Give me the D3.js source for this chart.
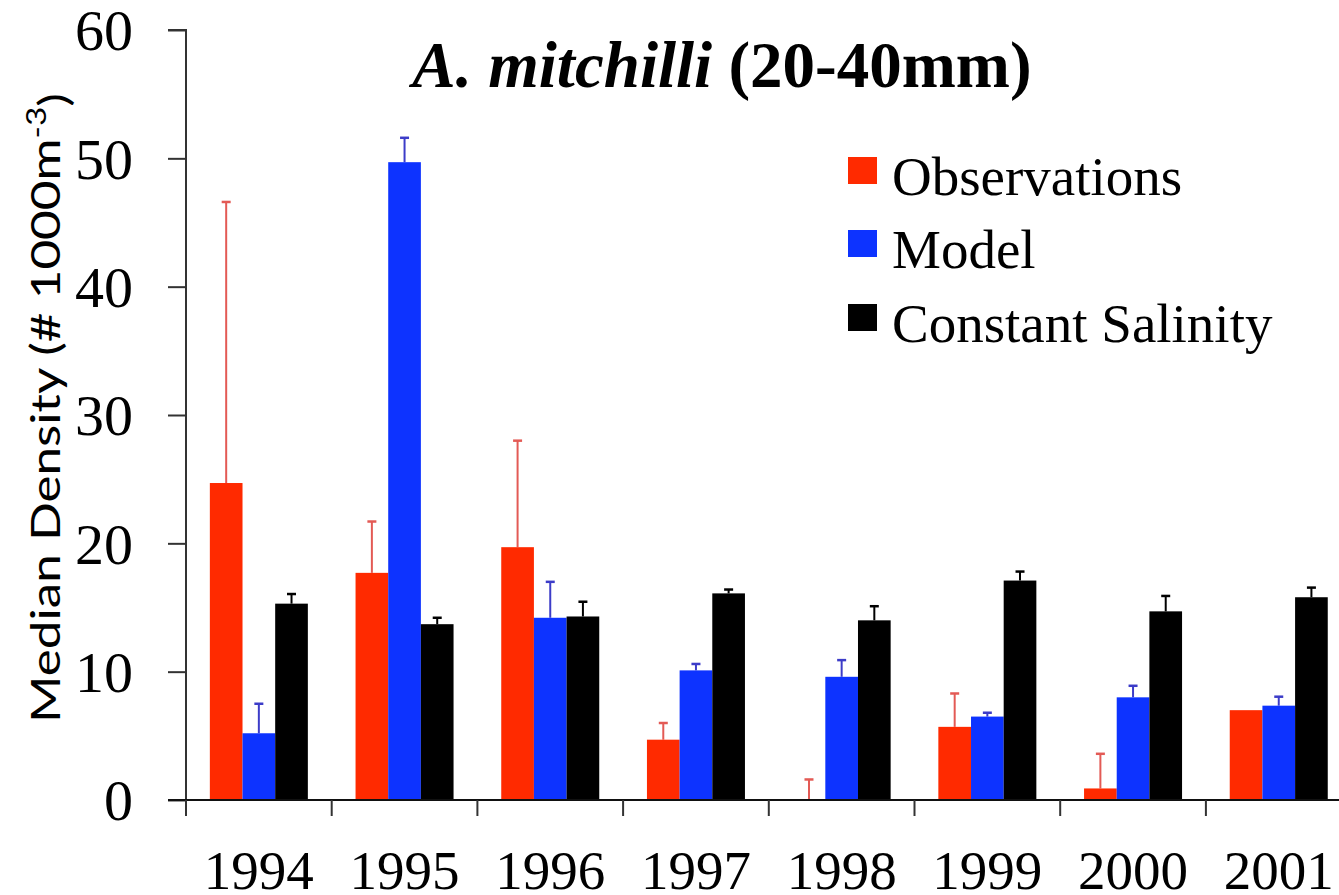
<!DOCTYPE html>
<html>
<head>
<meta charset="utf-8">
<script src="https://cdn.jsdelivr.net/npm/d3@7"></script>
<style>
	body { margin:0; background:#fff; }
	svg { display:block; }
	.serif { font-family: "Liberation Serif", "Times New Roman", serif; fill:#000; }
</style>
</head>
<body>
<div id="svgContainer"></div>
<script>
// data
var years = ["1994","1995","1996","1997","1998","1999","2000","2001"];
var series = ["Observations","Model","Constant Salinity"];
var colors = ["#ff2a00","#0d33ff","#000000"];
var errColors = ["#e35a55","#3c3cc8","#000000"];

var observations = [24.7, 17.7, 19.7, 4.7, 0, 5.7, 0.9, 7.0];
var model        = [5.2, 49.7, 14.2, 10.1, 9.6, 6.5, 8.0, 7.35];
var constSal     = [15.3, 13.7, 14.3, 16.1, 14.0, 17.1, 14.7, 15.8];

// upper error bar size
var observationsErr = [21.9, 4.0, 8.3, 1.3, 1.6, 2.6, 2.7, 0];
var modelErr        = [2.3, 1.9, 2.8, 0.5, 1.3, 0.3, 0.9, 0.7];
var constSalErr     = [0.75, 0.5, 1.15, 0.3, 1.1, 0.7, 1.2, 0.75];

var yTicks = [0, 10, 20, 30, 40, 50, 60];

var W = 1339, H = 895;
var plot = {left:186, top:30, bottom:800, step:145.7};

var svg = d3.select("#svgContainer").append("svg")
	.attr("width", W)
	.attr("height", H);

// scales
var xScale = d3.scaleBand()
	.domain(years)
	.range([plot.left, plot.left + plot.step*years.length])
	.paddingInner(0).paddingOuter(0);

var xSub = d3.scaleBand()
	.domain(series)
	.range([0, xScale.bandwidth()])
	.paddingInner(0)
	.paddingOuter(0.73);

var yScale = d3.scaleLinear().domain([0, 60]).range([plot.bottom, plot.top]);

var values = [observations, model, constSal];
var errs = [observationsErr, modelErr, constSalErr];

// build one node per bar
var data = [];
series.forEach(function(s, si){
	years.forEach(function(yr, i){
		data.push({ year:yr, s:s, si:si, v:values[si][i], e:errs[si][i] });
	});
});

function barMid(d){ return xScale(d.year) + xSub(d.s) + xSub.bandwidth()/2; }

// error bars (drawn first so the bars cover the base)
var eb = svg.append("g").attr("class","errors")
	.selectAll("g").data(data.filter(function(d){ return d.e > 0; }))
	.enter().append("g");

eb.append("line")
	.attr("x1", barMid)
	.attr("x2", barMid)
	.attr("y1", function(d){ return yScale(d.v); })
	.attr("y2", function(d){ return yScale(d.v + d.e); })
	.attr("stroke", function(d){ return errColors[d.si]; })
	.attr("stroke-width", 2);

eb.append("line")
	.attr("x1", function(d){ return barMid(d) - 4.5; })
	.attr("x2", function(d){ return barMid(d) + 4.5; })
	.attr("y1", function(d){ return yScale(d.v + d.e); })
	.attr("y2", function(d){ return yScale(d.v + d.e); })
	.attr("stroke", function(d){ return errColors[d.si]; })
	.attr("stroke-width", 2.5);

// bars
svg.append("g").attr("class","bars")
	.selectAll("rect").data(data.filter(function(d){ return d.v > 0; }))
	.enter().append("rect")
	.attr("x", function(d){ return xScale(d.year) + xSub(d.s); })
	.attr("width", xSub.bandwidth())
	.attr("y", function(d){ return yScale(d.v); })
	.attr("height", function(d){ return yScale(0) - yScale(d.v); })
	.attr("fill", function(d){ return colors[d.si]; });

// y axis
var yAxis = d3.axisLeft(yScale).tickValues(yTicks).tickSize(18).tickPadding(35).tickFormat(d3.format("d"));
var gy = svg.append("g")
	.attr("transform", "translate(" + plot.left + ",0)")
	.call(yAxis);
gy.select(".domain").attr("d", "M-18," + yScale(60) + "H0V" + yScale(0)).attr("stroke","#333").attr("stroke-width",2);
gy.selectAll(".tick line").attr("stroke","#333").attr("stroke-width",2);
gy.selectAll(".tick text")
	.attr("class","serif")
	.style("font-size","58px")
	.attr("dy","0.34em");

// x axis: line to the right edge, ticks at band boundaries
svg.append("line")
	.attr("x1", plot.left - 18).attr("x2", W)
	.attr("y1", yScale(0)).attr("y2", yScale(0))
	.attr("stroke","#111").attr("stroke-width",2);

svg.append("g").selectAll("line").data(years)
	.enter().append("line")
	.attr("x1", function(d){ return xScale(d); })
	.attr("x2", function(d){ return xScale(d); })
	.attr("y1", yScale(0)).attr("y2", yScale(0) + 16)
	.attr("stroke","#333").attr("stroke-width",2);

svg.append("g").selectAll("text").data(years)
	.enter().append("text")
	.attr("class","serif")
	.attr("x", function(d){ return xScale(d) + xScale.bandwidth()/2; })
	.attr("y", 889)
	.attr("text-anchor","middle")
	.style("font-size","55px")
	.text(function(d){ return d; });

// y axis title
var yt = svg.append("text")
	.attr("transform","translate(60,408) rotate(-90)")
	.attr("text-anchor","middle")
	.style("font-family","Lato, 'Open Sans', sans-serif")
	.style("font-size","40px")
	.attr("textLength", 630)
	.attr("lengthAdjust","spacingAndGlyphs");
yt.append("tspan").text("Median Density (# 1000m");
yt.append("tspan").attr("dy","-0.55em").style("font-size","26px").text("-3");
yt.append("tspan").attr("dy","0.55em").text(")");

// title
var title = svg.append("text")
	.attr("class","serif")
	.attr("x", 722).attr("y", 87)
	.attr("text-anchor","middle")
	.style("font-size","65px")
	.style("font-weight","bold");
title.append("tspan").style("font-style","italic").text("A. mitchilli");
title.append("tspan").text(" (20-40mm)");

// legend
var legend = svg.append("g").attr("class","legend")
	.selectAll("g").data(series)
	.enter().append("g")
	.attr("transform", function(d, i){ return "translate(848," + [195, 268, 342][i] + ")"; });

legend.append("rect")
	.attr("x", 0).attr("y", -38)
	.attr("width", 29).attr("height", 27)
	.attr("fill", function(d, i){ return colors[i]; });

legend.append("text")
	.attr("class","serif")
	.attr("x", 44).attr("y", 0)
	.style("font-size","55px")
	.text(function(d){ return d; });
</script>
</body>
</html>
